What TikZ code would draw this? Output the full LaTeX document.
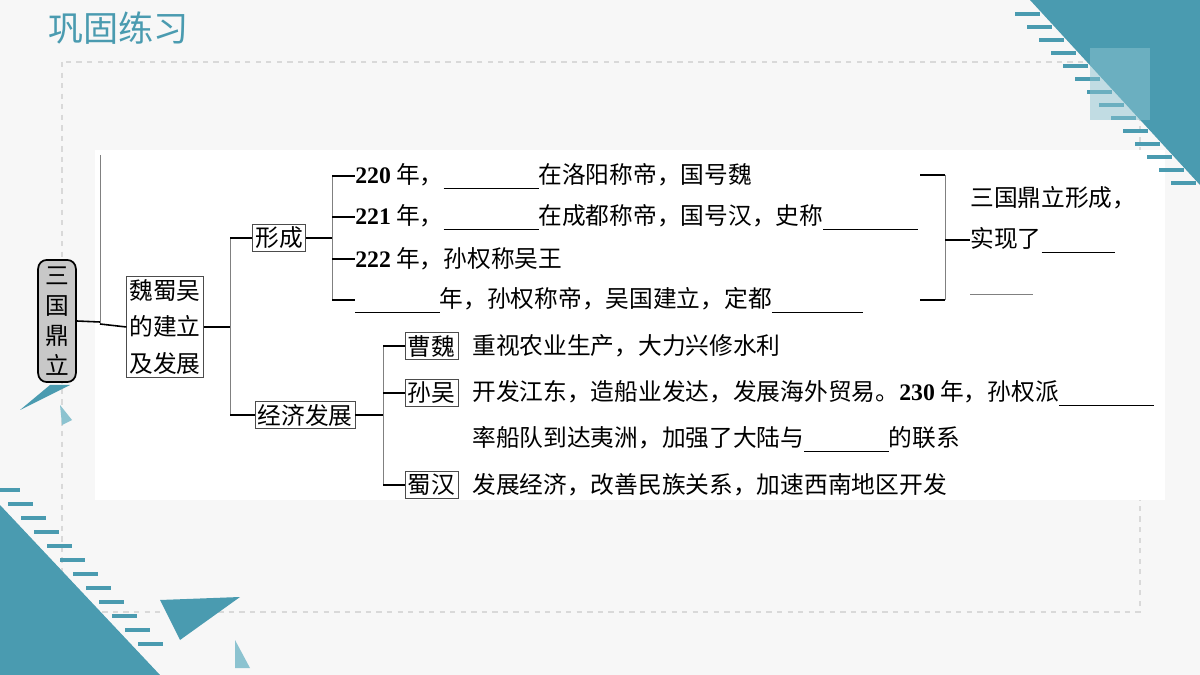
\documentclass[tikz,border=0pt]{standalone}
\usepackage{fontspec}
\setmainfont{Liberation Serif}
\newfontfamily\cjk{Noto Sans CJK SC}
\usetikzlibrary{positioning}
\definecolor{teal}{HTML}{4A9BB0}
\definecolor{lteal}{HTML}{8CC3D0}
\definecolor{rootgray}{HTML}{C8C8C8}
\newcommand{\blank}[1]{\rule[-3pt]{#1}{0.4pt}}
\newcommand{\yr}[1]{{\rmfamily\bfseries #1}}
\begin{document}
\begin{tikzpicture}[x=0.02cm,y=-0.02cm,
  box/.style={draw=black!70, inner sep=1.5pt, font=\cjk\fontsize{13.5}{16}\selectfont},
  root/.style={draw=black, fill=rootgray, rounded corners=5pt, line width=1pt,
               inner sep=4pt, align=center, font=\cjk\fontsize{13.5}{17}\selectfont},
  txt/.style={anchor=west, inner sep=0pt, font=\cjk\fontsize{13.5}{16}\selectfont},
  line/.style={black, line width=0.9pt},
  thin/.style={black!50, line width=0.5pt}
]
  \useasboundingbox (0,0) rectangle (1200,675);
  \clip (0,0) rectangle (1200,675);
  % background and frame
  \fill[black!3] (0,0) rectangle (1200,675);
  \draw[black!15, dashed, line width=0.8pt] (62,62) rectangle (1140,612);
  \fill[white] (95,150) rectangle (1165,500);
  % decorations
  \fill[teal] (1030,0) -- (1200,0) -- (1200,185) -- cycle;
  \foreach \i in {0,...,13}
    \draw[teal, line width=2.5pt] (1015+\i*12,14+\i*13) -- (1040+\i*12,14+\i*13);
  \fill[lteal, opacity=0.5] (1090,48) rectangle (1150,120);
  \fill[teal] (0,505) -- (0,675) -- (160,675) -- cycle;
  \foreach \i in {0,...,11}
    \draw[teal, line width=2.5pt] (-5+\i*13,490+\i*14) -- (20+\i*13,490+\i*14);
  \fill[teal] (160,600) -- (240,597) -- (180,640) -- cycle;
  \fill[lteal] (235,640) -- (250,668) -- (235,668) -- cycle;
  \fill[teal] (20,410) -- (50,385) -- (70,385) -- cycle;
  \fill[lteal] (60,405) -- (72,420) -- (62,425) -- cycle;
  \node[anchor=west, text=teal, font=\cjk\fontsize{20}{24}\selectfont] (title) at (42,28) {巩固练习};

  % tree
  \node[root] (sg) at (57,321) {三\\国\\鼎\\立};
  \node[box, align=center, font=\cjk\fontsize{13.5}{21}\selectfont] (wsw) at (165,327) {魏蜀吴\\的建立\\及发展};
  \node[box] (xc) at (279,238) {形成};
  \node[box] (jj) at (305,415) {经济发展};
  \coordinate (j0) at (100,322);
  \draw[line] (sg.east) -- (j0);
  \draw[thin] (100,155) -- (100,324);
  \draw[line] (100,324) -- (wsw.west);
  \draw[line] (wsw.east) -- (230,327);
  \draw[thin] (230,238) -- (230,415);
  \draw[line] (230,238) -- (xc.west);
  \draw[line] (230,415) -- (jj.west);

  % formation
  \draw[line] (xc.east) -- (332,238);
  \draw[thin] (332,175) -- (332,300);
  \node[txt] (a1) at (355,176) {\yr{220} 年，\blank{54pt}在洛阳称帝，国号魏};
  \node[txt] (a2) at (355,217) {\yr{221} 年，\blank{54pt}在成都称帝，国号汉，史称\blank{54pt}};
  \node[txt] (a3) at (355,259) {\yr{222} 年，孙权称吴王};
  \node[txt] (a4) at (355,300) {\blank{48pt}年，孙权称帝，吴国建立，定都\blank{52pt}};
  \foreach \n in {a1,a2,a3,a4}
    \draw[line] (332,0 |- \n.west) -- (\n.west);

  % result bracket
  \draw[line] (920,175) -- (945,175);
  \draw[line] (920,300) -- (945,300);
  \draw[thin] (945,175) -- (945,300);
  \node[txt] (r1) at (970,198) {三国鼎立形成，};
  \node[txt] (r2) at (970,240) {实现了\blank{42pt}};
  \coordinate (r3) at (970,294);
  \draw[thin] (r3) -- ++(63,0);
  \draw[line] (945,240) -- (r2.west);

  % economy
  \draw[line] (jj.east) -- (383,415);
  \draw[thin] (383,345) -- (383,485);
  \node[box, anchor=west] (cw) at (405,346) {曹魏};
  \node[box, anchor=west] (sw) at (405,393) {孙吴};
  \node[box, anchor=west] (sh) at (405,485) {蜀汉};
  \foreach \n in {cw,sw,sh}
    \draw[line] (383,0 |- \n.west) -- (\n.west);
  \node[txt] (e1) at (472,346) {重视农业生产，大力兴修水利};
  \node[txt] (e2) at (472,393) {开发江东，造船业发达，发展海外贸易。\yr{230} 年，孙权派\blank{54pt}};
  \node[txt] (e3) at (472,439) {率船队到达夷洲，加强了大陆与\blank{48pt}的联系};
  \node[txt] (e4) at (472,485) {发展经济，改善民族关系，加速西南地区开发};
\end{tikzpicture}
\end{document}
